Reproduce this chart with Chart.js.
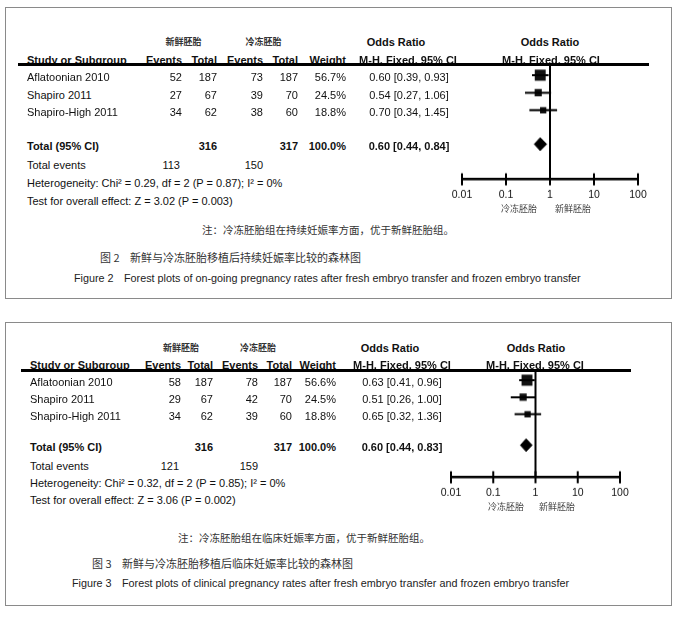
<!DOCTYPE html>
<html>
<head>
<meta charset="utf-8">
<script src="https://cdn.jsdelivr.net/npm/chart.js@4.4.1/dist/chart.umd.min.js"></script>
<style>
  body { margin: 0; background: #fff; width: 676px; height: 619px; position: relative; overflow: hidden;
         font-family: "Liberation Sans", Arial, sans-serif; color: #111; }
  .box { position: absolute; border: 1px solid #8a8a8a; box-sizing: border-box; }
  .t { position: absolute; white-space: nowrap; font-size: 11px; line-height: 14px; }
  .b { font-weight: bold; }
  .cn { font-family: "Noto Sans CJK SC", sans-serif; }
  .rule { position: absolute; height: 3px; background: #000; }
  .cap { position: absolute; white-space: nowrap; font-size: 10.8px; line-height: 14px; color: #222; }
  .cap span { position: absolute; top: 0; }
  canvas { position: absolute; }
</style>
</head>
<body>

<div class="box" style="left:5px;top:7px;width:667px;height:292px"></div>
<div class="box" style="left:5px;top:322px;width:667px;height:284px"></div>

<canvas id="fig2"></canvas>
<canvas id="fig3"></canvas>

<!-- captions -->
<div class="cap cn" style="left:202px;top:223px;font-size:10.5px;color:#333">注：冷冻胚胎组在持续妊娠率方面，优于新鲜胚胎组。</div>
<div class="cap cn" style="left:100px;top:250px;font-size:11px;color:#333"><span style="left:0">图 2</span><span style="left:30px">新鲜与冷冻胚胎移植后持续妊娠率比较的森林图</span></div>
<div class="cap" style="left:74px;top:271px"><span style="left:0">Figure 2</span><span style="left:50px">Forest plots of on-going pregnancy rates after fresh embryo transfer and frozen embryo transfer</span></div>

<div class="cap cn" style="left:178px;top:531px;font-size:10.5px;color:#333">注：冷冻胚胎组在临床妊娠率方面，优于新鲜胚胎组。</div>
<div class="cap cn" style="left:92px;top:556px;font-size:11px;color:#333"><span style="left:0">图 3</span><span style="left:30px">新鲜与冷冻胚胎移植后临床妊娠率比较的森林图</span></div>
<div class="cap" style="left:72px;top:576px"><span style="left:0">Figure 3</span><span style="left:50px">Forest plots of clinical pregnancy rates after fresh embryo transfer and frozen embryo transfer</span></div>

<script>
// ---- data ----
const studies = ['Aflatoonian 2010', 'Shapiro 2011', 'Shapiro-High 2011'];
const tickValues = [0.01, 0.1, 1, 10, 100];
const tickLabels = ['0.01', '0.1', '1', '10', '100'];
const groupNames = ['新鲜胚胎', '冷冻胚胎'];   // fresh, frozen
const favourLabels = ['冷冻胚胎', '新鲜胚胎']; // left of 1, right of 1

// Figure 2: on-going pregnancy
const ongoingFreshEvents  = [52, 27, 34];
const ongoingFreshTotal   = [187, 67, 62];
const ongoingFrozenEvents = [73, 39, 38];
const ongoingFrozenTotal  = [187, 70, 60];
const ongoingWeight = [56.7, 24.5, 18.8];
const ongoingOR     = [0.60, 0.54, 0.70];
const ongoingLow    = [0.39, 0.27, 0.34];
const ongoingHigh   = [0.93, 1.06, 1.45];
const ongoingPooled = [0.60, 0.44, 0.84]; // OR, low, high
const ongoingHet  = 'Heterogeneity: Chi² = 0.29, df = 2 (P = 0.87); I² = 0%';
const ongoingTest = 'Test for overall effect: Z = 3.02 (P = 0.003)';

// Figure 3: clinical pregnancy
const clinicalFreshEvents  = [58, 29, 34];
const clinicalFreshTotal   = [187, 67, 62];
const clinicalFrozenEvents = [78, 42, 39];
const clinicalFrozenTotal  = [187, 70, 60];
const clinicalWeight = [56.6, 24.5, 18.8];
const clinicalOR     = [0.63, 0.51, 0.65];
const clinicalLow    = [0.41, 0.26, 0.32];
const clinicalHigh   = [0.96, 1.00, 1.36];
const clinicalPooled = [0.60, 0.44, 0.83];
const clinicalHet  = 'Heterogeneity: Chi² = 0.32, df = 2 (P = 0.85); I² = 0%';
const clinicalTest = 'Test for overall effect: Z = 3.06 (P = 0.002)';

// ---- layout (pixels) ----
const lay2 = {
  cnY: 42, headY: 60, ruleY: 63, ruleX0: 18, ruleX1: 649,
  rowsY: [77, 95, 112], totalY: 146, eventsY: 165, hetY: 183, testY: 201,
  studyX: 27, ev1R: 182, tot1R: 217, ev2R: 263, tot2R: 298, wR: 346,
  orC: 409, orHeadC: 396, mhC: 408, fpHeadC: 550, fpMhC: 551,
  cvL: 440, cvT: 50, plotL: 462, plotR: 638, plotT: 64, plotB: 179,
  yMin: -0.63, yMax: 5.94, rows: [0, 1, 2], total: 3.94,
  lblY: 209, lblC: [519, 573]
};
const lay3 = {
  cnY: 348, headY: 365, ruleY: 369, ruleX0: 21, ruleX1: 631,
  rowsY: [382, 399, 416], totalY: 447, eventsY: 466, hetY: 483, testY: 500,
  studyX: 30, ev1R: 181, tot1R: 213, ev2R: 258, tot2R: 292, wR: 336,
  orC: 402, orHeadC: 390, mhC: 402, fpHeadC: 536, fpMhC: 535,
  cvL: 430, cvT: 356, plotL: 451, plotR: 620, plotT: 370, plotB: 477,
  yMin: -0.59, yMax: 5.7, rows: [0, 1, 2], total: 3.82,
  lblY: 507, lblC: [506, 557]
};

const PAGE_W = 676;
function put(text, x, y, align, cls, extra) {
  const el = document.createElement('div');
  el.className = 't ' + (cls || '');
  el.textContent = text;
  el.style.top = (y - 7) + 'px';
  if (align === 'right') el.style.right = (PAGE_W - x) + 'px';
  else if (align === 'center') { el.style.left = x + 'px'; el.style.transform = 'translateX(-50%)'; }
  else el.style.left = x + 'px';
  if (extra) Object.assign(el.style, extra);
  document.body.appendChild(el);
}
const fmt = v => v.toFixed(2);
const sum = a => a.reduce((s, v) => s + v, 0);

// cross-shaped tick marks on the odds-ratio axis
const crossTicks = {
  id: 'crossTicks',
  afterDraw(chart) {
    const sc = chart.scales.x, ctx = chart.ctx, yb = chart.chartArea.bottom;
    ctx.save();
    ctx.strokeStyle = '#000';
    ctx.lineWidth = 2;
    sc.ticks.forEach(t => {
      const px = sc.getPixelForValue(t.value);
      ctx.beginPath(); ctx.moveTo(px, yb - 6); ctx.lineTo(px, yb + 6); ctx.stroke();
    });
    ctx.restore();
  }
};

function panel(canvasId, d, L) {
  // table
  const cnStyle = { fontSize: '9px', fontWeight: 'bold', color: '#333' };
  put(groupNames[0], (L.ev1R + L.tot1R) / 2 - 16, L.cnY, 'center', 'cn', cnStyle);
  put(groupNames[1], (L.ev2R + L.tot2R) / 2 - 17, L.cnY, 'center', 'cn', cnStyle);
  put('Odds Ratio', L.orHeadC, L.cnY, 'center', 'b');
  put('Odds Ratio', L.fpHeadC, L.cnY, 'center', 'b');
  put('Study or Subgroup', L.studyX, L.headY, 'left', 'b');
  put('Events', L.ev1R, L.headY, 'right', 'b');
  put('Total', L.tot1R, L.headY, 'right', 'b');
  put('Events', L.ev2R, L.headY, 'right', 'b');
  put('Total', L.tot2R, L.headY, 'right', 'b');
  put('Weight', L.wR, L.headY, 'right', 'b');
  put('M-H, Fixed, 95% CI', L.mhC, L.headY, 'center', 'b');
  put('M-H, Fixed, 95% CI', L.fpMhC, L.headY, 'center', 'b');

  const rule = document.createElement('div');
  rule.className = 'rule';
  Object.assign(rule.style, { left: L.ruleX0 + 'px', width: (L.ruleX1 - L.ruleX0) + 'px', top: L.ruleY + 'px' });
  document.body.appendChild(rule);

  studies.forEach((s, i) => {
    const y = L.rowsY[i];
    put(s, L.studyX, y, 'left');
    put(String(d.fe[i]), L.ev1R, y, 'right');
    put(String(d.ft[i]), L.tot1R, y, 'right');
    put(String(d.ze[i]), L.ev2R, y, 'right');
    put(String(d.zt[i]), L.tot2R, y, 'right');
    put(d.w[i].toFixed(1) + '%', L.wR, y, 'right');
    put(`${fmt(d.or[i])} [${fmt(d.lo[i])}, ${fmt(d.hi[i])}]`, L.orC, y, 'center');
  });
  put('Total (95% CI)', L.studyX, L.totalY, 'left', 'b');
  put(String(sum(d.ft)), L.tot1R, L.totalY, 'right', 'b');
  put(String(sum(d.zt)), L.tot2R, L.totalY, 'right', 'b');
  put('100.0%', L.wR, L.totalY, 'right', 'b');
  put(`${fmt(d.pooled[0])} [${fmt(d.pooled[1])}, ${fmt(d.pooled[2])}]`, L.orC, L.totalY, 'center', 'b');
  put('Total events', L.studyX, L.eventsY, 'left');
  put(String(sum(d.fe)), L.ev1R - 2, L.eventsY, 'right');
  put(String(sum(d.ze)), L.ev2R, L.eventsY, 'right');
  put(d.het, L.studyX, L.hetY, 'left');
  put(d.test, L.studyX, L.testY, 'left');

  favourLabels.forEach((t, i) =>
    put(t, L.lblC[i], L.lblY, 'center', 'cn', { fontSize: '9px', color: '#444' }));

  // forest plot
  const tickPad = 9, tickFont = 10.5;
  const cvW = 220;
  const cvH = L.plotB - L.cvT + tickFont * 1.2 + tickPad * 2;
  const cv = document.getElementById(canvasId);
  cv.width = cvW; cv.height = cvH;
  cv.style.left = L.cvL + 'px'; cv.style.top = L.cvT + 'px';
  cv.style.width = cvW + 'px'; cv.style.height = cvH + 'px';

  const boxScale = 1.45 / (2 * Math.SQRT1_2);
  const h = 0.37;
  const line = { showLine: true, borderColor: '#000', borderWidth: 2, pointRadius: 0 };

  new Chart(cv, {
    type: 'scatter',
    data: {
      datasets: [
        { ...line, data: [{ x: 1, y: L.yMin }, { x: 1, y: L.yMax }] },
        ...d.or.map((v, i) => ({ ...line, data: [{ x: d.lo[i], y: L.rows[i] }, { x: d.hi[i], y: L.rows[i] }] })),
        {
          data: d.or.map((v, i) => ({ x: v, y: L.rows[i] })),
          pointStyle: 'rect',
          pointRadius: d.w.map(w => Math.sqrt(w) * boxScale),
          backgroundColor: '#111', borderWidth: 0
        },
        {
          data: [
            { x: d.pooled[1], y: L.total }, { x: d.pooled[0], y: L.total - h },
            { x: d.pooled[2], y: L.total }, { x: d.pooled[0], y: L.total + h },
            { x: d.pooled[1], y: L.total }
          ],
          showLine: true, fill: 'shape', tension: 0,
          backgroundColor: '#000', borderColor: '#000', borderWidth: 1, pointRadius: 0
        }
      ]
    },
    options: {
      responsive: false, animation: false, events: [],
      layout: { padding: { left: L.plotL - L.cvL, right: L.cvL + cvW - L.plotR, top: L.plotT - L.cvT, bottom: 0 } },
      plugins: { legend: { display: false }, tooltip: { enabled: false } },
      scales: {
        x: {
          type: 'logarithmic', min: 0.01, max: 100, position: 'bottom',
          afterBuildTicks: s => { s.ticks = tickValues.map(v => ({ value: v })); },
          grid: { display: false, drawTicks: false },
          border: { display: true, color: '#000', width: 2.5 },
          ticks: {
            autoSkip: false, maxRotation: 0, padding: tickPad, color: '#111',
            font: { family: '"Liberation Sans", Arial, sans-serif', size: tickFont },
            callback: (v, i) => tickLabels[i]
          }
        },
        y: { type: 'linear', display: false, reverse: true, min: L.yMin, max: L.yMax }
      }
    },
    plugins: [crossTicks]
  });
}

panel('fig2', {
  fe: ongoingFreshEvents, ft: ongoingFreshTotal, ze: ongoingFrozenEvents, zt: ongoingFrozenTotal,
  w: ongoingWeight, or: ongoingOR, lo: ongoingLow, hi: ongoingHigh, pooled: ongoingPooled,
  het: ongoingHet, test: ongoingTest
}, lay2);

panel('fig3', {
  fe: clinicalFreshEvents, ft: clinicalFreshTotal, ze: clinicalFrozenEvents, zt: clinicalFrozenTotal,
  w: clinicalWeight, or: clinicalOR, lo: clinicalLow, hi: clinicalHigh, pooled: clinicalPooled,
  het: clinicalHet, test: clinicalTest
}, lay3);
</script>
</body>
</html>
